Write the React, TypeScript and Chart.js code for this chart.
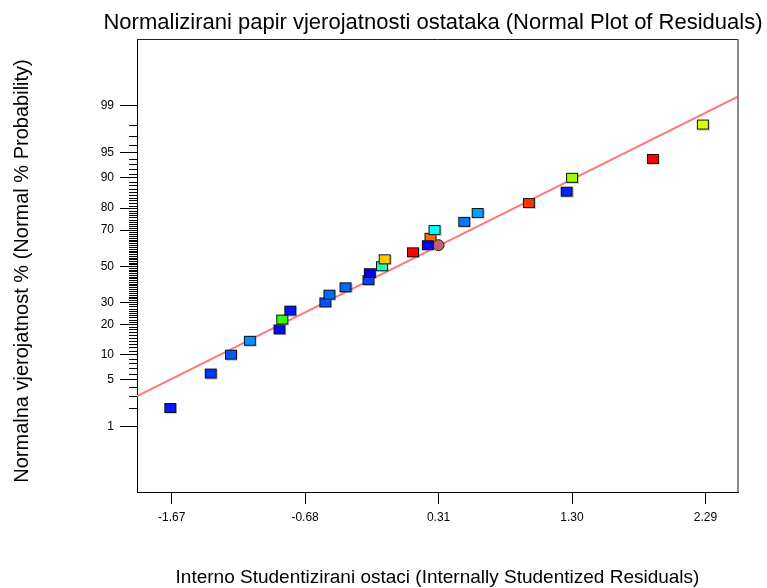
import React, { useEffect, useRef } from 'react';
import { Chart, registerables } from 'chart.js';

Chart.register(...registerables);

// Residuals (x) and normal % probability (y), in drawing order
const residuals = [-1.68, -1.38, -1.23, -1.09, -0.87, -0.85, -0.79, -0.53, -0.50, -0.38, -0.21, -0.20, -0.11, -0.09, 0.12, 0.25, 0.28, 0.31, 0.23, 0.50, 0.60, 0.98, 1.26, 1.30, 1.90, 2.27];
const probabilities = [2, 6, 10, 14, 18, 22, 26, 30, 34, 38, 42, 46, 50, 54, 58, 66, 70, 62, 62, 74, 78, 82, 86, 90, 94, 98];
const pointColors = ['#0019ff', '#0033ff', '#0058ff', '#0090ff', '#0010f0', '#33ff00', '#0014ff', '#0052ff', '#006cff', '#0068f0', '#0044ff', '#0000ee', '#10ffc0', '#ffcc00', '#ff0000', '#ff6a00', '#00ffff', '#c06464', '#0000ff', '#0078ff', '#00a0ff', '#ff3300', '#0022ff', '#99ff00', '#ff0000', '#ddff00'];
const pointShapes = ['rect', 'rect', 'rect', 'rect', 'rect', 'rect', 'rect', 'rect', 'rect', 'rect', 'rect', 'rect', 'rect', 'rect', 'rect', 'rect', 'rect', 'circle', 'rect', 'rect', 'rect', 'rect', 'rect', 'rect', 'rect', 'rect'];

// Fitted normal line (endpoints)
const fitLineX = [-1.93, 2.53];
const fitLineP = [2.97, 99.3];

// Axes
const yTickLabels = [1, 5, 10, 20, 30, 50, 70, 80, 90, 95, 99];
const yMinorTicks = Array.from({ length: 99 }, (_, i) => i + 1).filter((p) => !yTickLabels.includes(p));
const xTickValues = [-1.67, -0.68, 0.31, 1.3, 2.29];
const xRange = [-1.927, 2.531];
const zRange = [-3.272, 3.293];

const titleText = 'Normalizirani papir vjerojatnosti ostataka (Normal Plot of Residuals)';
const xTitle = 'Interno Studentizirani ostaci (Internally Studentized Residuals)';
const yTitle = 'Normalna vjerojatnost % (Normal % Probability)';

const FONT = '"Liberation Sans", Arial, sans-serif';

// inverse standard normal CDF (Acklam)
function probit(pct: number): number {
  const p = pct / 100;
  const a = [-3.969683028665376e1, 2.209460984245205e2, -2.759285104469687e2, 1.38357751867269e2, -3.066479806614716e1, 2.506628277459239];
  const b = [-5.447609879822406e1, 1.615858368580409e2, -1.556989798598866e2, 6.680131188771972e1, -1.328068155288572e1];
  const c = [-7.784894002430293e-3, -3.223964580411365e-1, -2.400758277161838, -2.549732539343734, 4.374664141464968, 2.938163982698783];
  const d = [7.784695709041462e-3, 3.224671290700398e-1, 2.445134137142996, 3.754408661907416];
  const pl = 0.02425;
  if (p < pl) {
    const q = Math.sqrt(-2 * Math.log(p));
    return (((((c[0] * q + c[1]) * q + c[2]) * q + c[3]) * q + c[4]) * q + c[5]) / ((((d[0] * q + d[1]) * q + d[2]) * q + d[3]) * q + 1);
  }
  if (p > 1 - pl) {
    const q = Math.sqrt(-2 * Math.log(1 - p));
    return -(((((c[0] * q + c[1]) * q + c[2]) * q + c[3]) * q + c[4]) * q + c[5]) / ((((d[0] * q + d[1]) * q + d[2]) * q + d[3]) * q + 1);
  }
  const q = p - 0.5;
  const r = q * q;
  return ((((((a[0] * r + a[1]) * r + a[2]) * r + a[3]) * r + a[4]) * r + a[5]) * q) / (((((b[0] * r + b[1]) * r + b[2]) * r + b[3]) * r + b[4]) * r + 1);
}

function makeRectMarker(color: string): HTMLCanvasElement {
  const cv = document.createElement('canvas');
  cv.width = 14;
  cv.height = 12;
  const ctx = cv.getContext('2d')!;
  ctx.fillStyle = 'rgba(120,120,120,0.3)';
  ctx.fillRect(2, 2, 12, 10);
  ctx.fillStyle = color;
  ctx.fillRect(1, 1, 12, 10);
  ctx.strokeStyle = '#111';
  ctx.lineWidth = 1;
  ctx.strokeRect(1.5, 1.5, 11, 9);
  return cv;
}

const decorPlugin = {
  id: 'decor',
  afterDraw(chart: any) {
    const { ctx, chartArea } = chart;
    const y = chart.scales.y;
    ctx.save();
    // frame top & right
    ctx.strokeStyle = '#222';
    ctx.lineWidth = 1;
    ctx.beginPath();
    ctx.moveTo(chartArea.left, chartArea.top + 0.5);
    ctx.lineTo(chartArea.right, chartArea.top + 0.5);
    ctx.stroke();
    ctx.strokeStyle = '#666';
    ctx.lineWidth = 1.5;
    ctx.beginPath();
    ctx.moveTo(chartArea.right, chartArea.top);
    ctx.lineTo(chartArea.right, chartArea.bottom);
    ctx.stroke();
    // minor ticks on probability axis
    ctx.strokeStyle = '#000';
    ctx.lineWidth = 1;
    ctx.beginPath();
    yMinorTicks.forEach((p) => {
      const py = Math.round(y.getPixelForValue(probit(p))) + 0.5;
      ctx.moveTo(chartArea.left - 8, py);
      ctx.lineTo(chartArea.left, py);
    });
    ctx.stroke();
    // titles
    ctx.fillStyle = '#000';
    ctx.textAlign = 'center';
    ctx.textBaseline = 'middle';
    ctx.font = `22px ${FONT}`;
    ctx.fillText(titleText, 433, 23);
    ctx.font = `19px ${FONT}`;
    ctx.fillText(xTitle, (chartArea.left + chartArea.right) / 2, 578);
    ctx.save();
    ctx.translate(22, 271);
    ctx.rotate(-Math.PI / 2);
    ctx.font = `20px ${FONT}`;
    ctx.fillText(yTitle, 0, 0);
    ctx.restore();
    ctx.restore();
  },
};

export default function App() {
  const ref = useRef<HTMLCanvasElement | null>(null);

  useEffect(() => {
    if (!ref.current) return;
    const points = residuals.map((x, i) => ({ x, y: probit(probabilities[i]) }));
    const styles = pointShapes.map((s, i) => (s === 'rect' ? makeRectMarker(pointColors[i]) : 'circle'));
    const line = fitLineX.map((x, i) => ({ x, y: probit(fitLineP[i]) }));

    const chart = new Chart(ref.current, {
      type: 'scatter',
      data: {
        datasets: [
          {
            type: 'line',
            data: line,
            borderColor: '#ff7b7b',
            borderWidth: 2,
            pointRadius: 0,
            fill: false,
            order: 2,
          } as any,
          {
            data: points,
            pointStyle: styles as any,
            pointRadius: pointShapes.map((s) => (s === 'circle' ? 5.5 : 6)),
            backgroundColor: pointColors,
            borderColor: '#222',
            borderWidth: 1,
            order: 1,
          },
        ],
      },
      options: {
        responsive: false,
        animation: false,
        devicePixelRatio: 1,
        layout: { padding: { top: 39, right: 29, left: 0, bottom: 0 } },
        plugins: {
          legend: { display: false },
          tooltip: { enabled: false },
          title: { display: false },
        },
        scales: {
          x: {
            type: 'linear',
            min: xRange[0],
            max: xRange[1],
            afterBuildTicks: (scale: any) => {
              scale.ticks = xTickValues.map((v) => ({ value: v }));
            },
            afterFit: (scale: any) => {
              scale.height = 96;
            },
            ticks: {
              autoSkip: false,
              maxRotation: 0,
              color: '#000',
              font: { family: FONT, size: 12 },
              padding: 6,
              callback: (v: any) => Number(v).toFixed(2),
            },
            grid: { drawOnChartArea: false, drawTicks: true, tickLength: 12, tickColor: '#000' },
            border: { display: true, color: '#000', width: 1 },
          },
          y: {
            type: 'linear',
            min: zRange[0],
            max: zRange[1],
            afterBuildTicks: (scale: any) => {
              scale.ticks = yTickLabels.map((p) => ({ value: probit(p) }));
            },
            afterFit: (scale: any) => {
              scale.width = 137;
            },
            ticks: {
              autoSkip: false,
              color: '#000',
              font: { family: FONT, size: 12 },
              padding: 6,
              callback: (_v: any, i: number) => String(yTickLabels[i]),
            },
            grid: { drawOnChartArea: false, drawTicks: true, tickLength: 17, tickColor: '#000' },
            border: { display: true, color: '#000', width: 1 },
          },
        },
      },
      plugins: [decorPlugin],
    });
    return () => chart.destroy();
  }, []);

  return (
    <div style={{ position: 'fixed', left: 0, top: 0, width: 767, height: 588, background: '#fff' }}>
      <canvas ref={ref} width={767} height={588} style={{ width: 767, height: 588, display: 'block' }} />
    </div>
  );
}
